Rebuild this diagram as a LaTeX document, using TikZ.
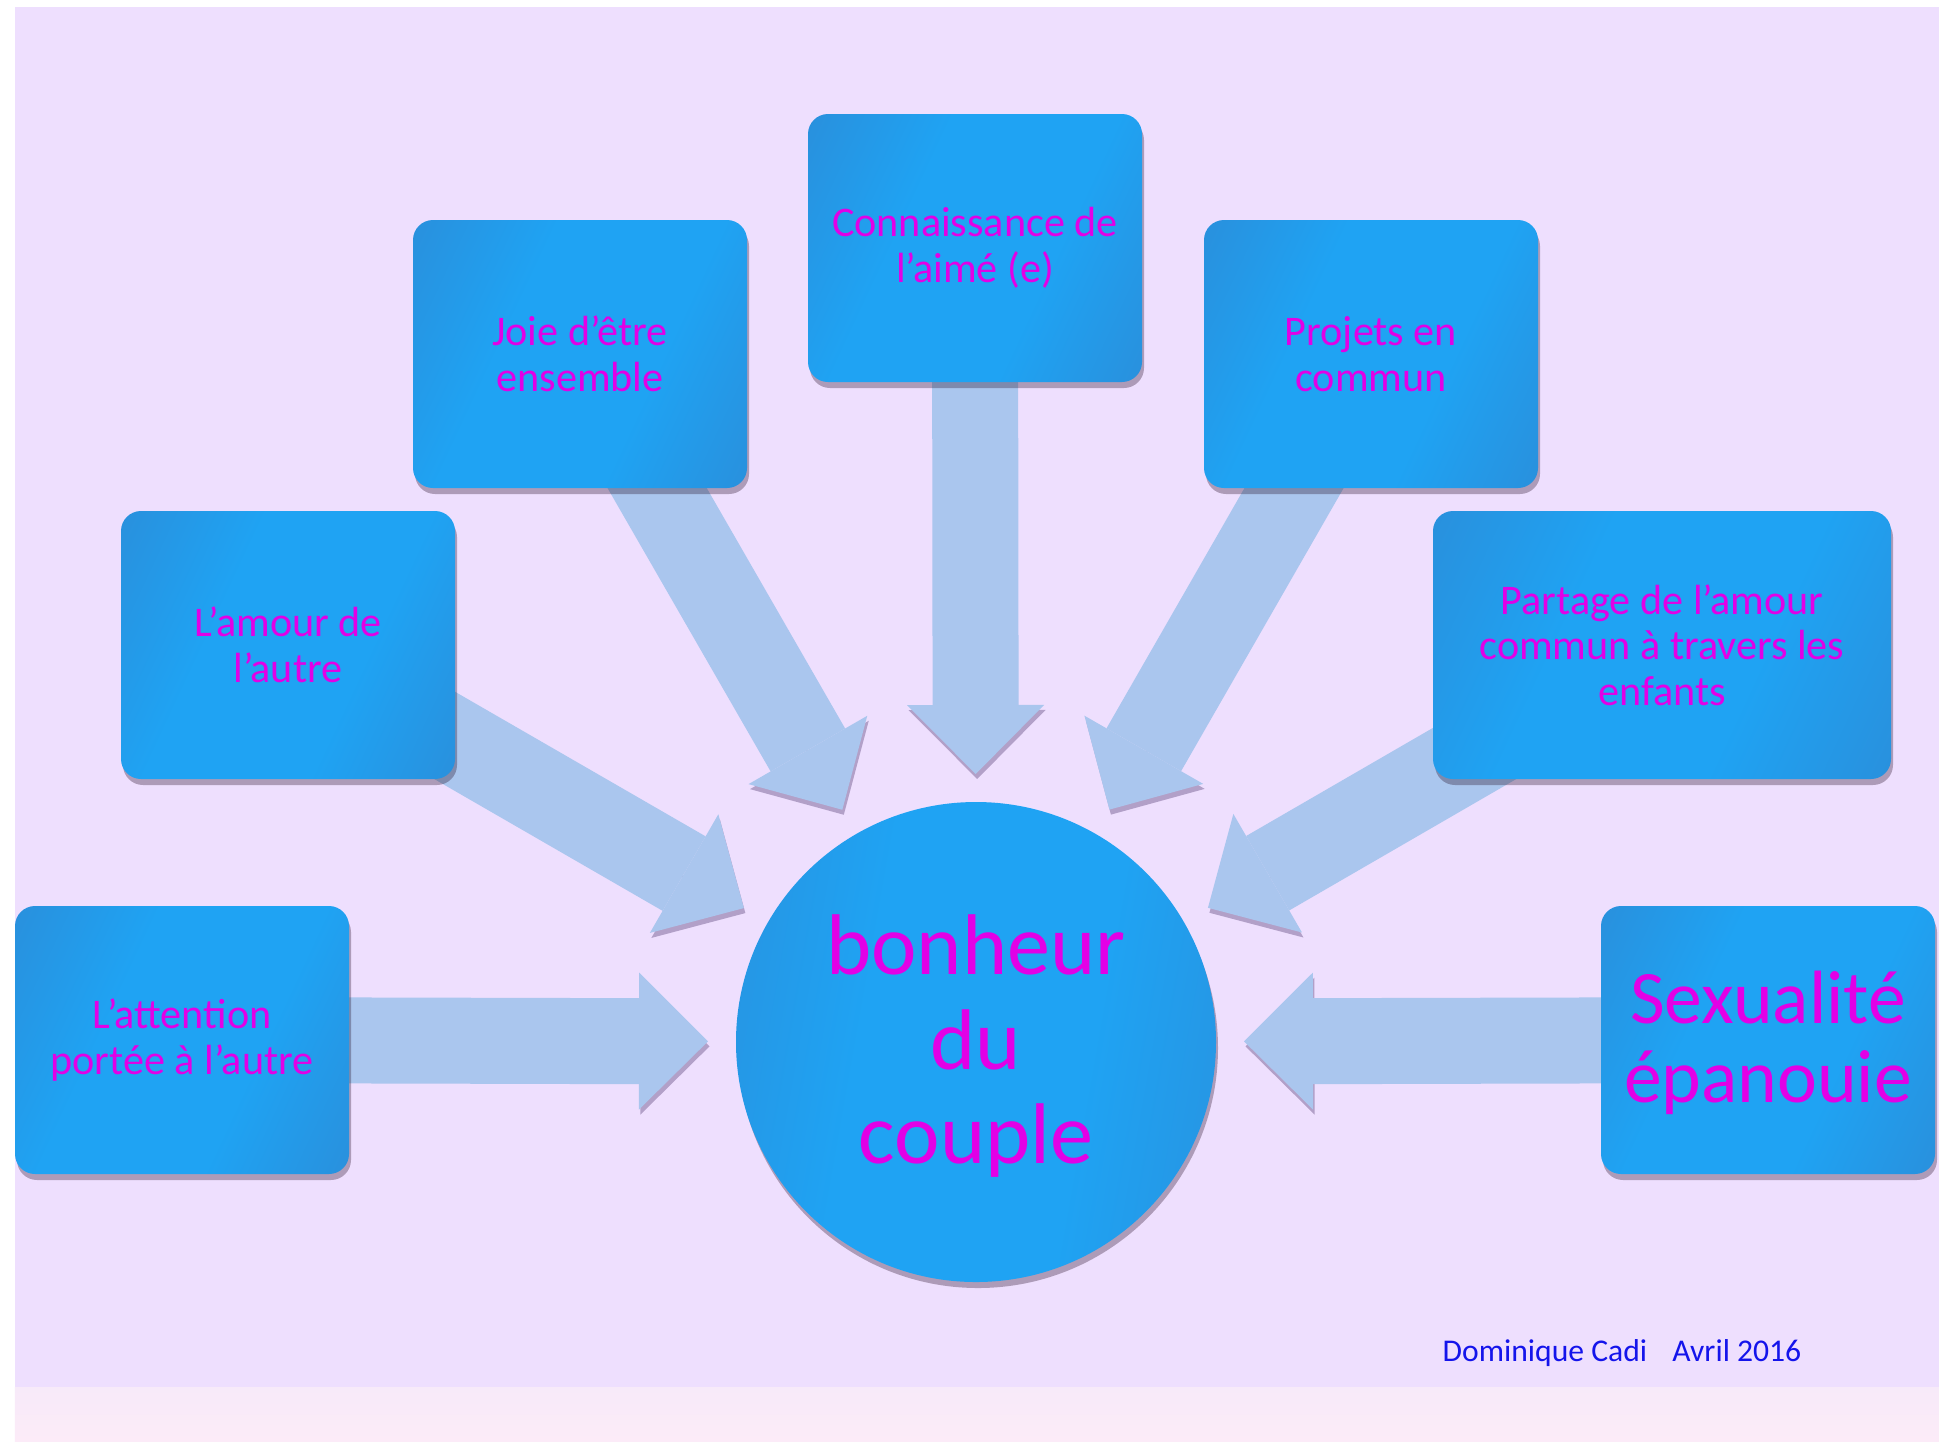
\documentclass[tikz,border=0pt]{standalone}
\usepackage{fontspec}
\setmainfont{Carlito}
\usetikzlibrary{arrows.meta,shadows}
\definecolor{lavande}{RGB}{238,223,254}
\definecolor{rosehaut}{RGB}{247,234,249}
\definecolor{rosebas}{RGB}{252,235,248}
\definecolor{bleufonce}{RGB}{43,140,216}
\definecolor{bleuclair}{RGB}{31,163,243}
\definecolor{flechebleu}{RGB}{170,198,238}
\definecolor{ombre}{RGB}{178,160,200}
\definecolor{texte}{RGB}{226,0,230}
\definecolor{signature}{RGB}{20,20,235}
\pgfdeclarehorizontalshading{boitefond}{100bp}{color(0bp)=(bleufonce); color(12bp)=(bleufonce);
  color(38bp)=(bleuclair); color(62bp)=(bleuclair); color(88bp)=(bleufonce); color(100bp)=(bleufonce)}
\pgfdeclarelayer{fond}
\pgfdeclarelayer{fleches}
\pgfsetlayers{fond,fleches,main}

\begin{document}
\begin{tikzpicture}[
    boite/.style={rectangle,rounded corners=0.2cm,minimum width=3.34cm,minimum height=2.68cm,
      drop shadow={shadow xshift=0.02cm,shadow yshift=-0.06cm,opacity=0.3,fill=black!80!violet},
      shade,shading=boitefond,shading angle=-25,
      text=texte,align=center,font=\fontsize{12}{13}\selectfont},
    fleche/.style={line width=0.86cm,draw=flechebleu,shorten >=0.28cm,
      -{Triangle[width=1.37cm,length=0.69cm,line width=0pt]},
      preaction={draw=ombre,transform canvas={shift={(0.015cm,-0.05cm)}}}}
  ]
          \useasboundingbox (0,0) rectangle (19.39,-14.42);
          \begin{pgfonlayer}{fond}
            \fill[white] (0,0) rectangle (19.39,-14.42);
            \fill[lavande] (0.15,-0.07) rectangle (19.39,-13.87);
            \shade[top color=rosehaut,bottom color=rosebas] (0.15,-13.87) rectangle (19.39,-14.41);
          \end{pgfonlayer}
          \node[boite] (attention) at (1.82,-10.40) {L’attention\\portée à l’autre};
          \node[boite] (amour) at (2.88,-6.45) {L’amour de\\l’autre};
          \node[boite] (joie) at (5.80,-3.54) {Joie d’être\\ensemble};
          \node[boite] (connaissance) at (9.75,-2.48) {Connaissance de\\l’aimé (e)};
          \node[boite] (projets) at (13.71,-3.54) {Projets en\\commun};
          \node[boite,minimum width=4.58cm] (partage) at (16.62,-6.45) {Partage de l’amour\\commun à travers les\\enfants};
          \node[boite,font=\fontsize{21.5}{22.5}\selectfont] (sexualite) at (17.68,-10.40)
            {\raisebox{-0.07cm}[\height][\depth]{\begin{tabular}{@{}c@{}}Sexualité\\épanouie\end{tabular}}};
          \node[boite,circle,minimum size=4.8cm,inner sep=0pt,outer sep=0pt,shading angle=-10,
            font=\fontsize{24.5}{27}\selectfont] (couple) at (9.76,-10.42)
            {\raisebox{-0.08cm}[\height][\depth]{\begin{tabular}{@{}c@{}}bonheur\\du\\couple\end{tabular}}};
          \node[text=signature,font=\fontsize{9}{10}\selectfont,anchor=base] (signe) at (16.22,-13.61) {Dominique Cadi\hspace{0.8em}Avril 2016};
          \begin{pgfonlayer}{fleches}
            \foreach \b in {attention,amour,joie,connaissance,projets,partage,sexualite}
              \draw[fleche] (\b.center) -- (couple);
          \end{pgfonlayer}
        \end{tikzpicture}
\end{document}
